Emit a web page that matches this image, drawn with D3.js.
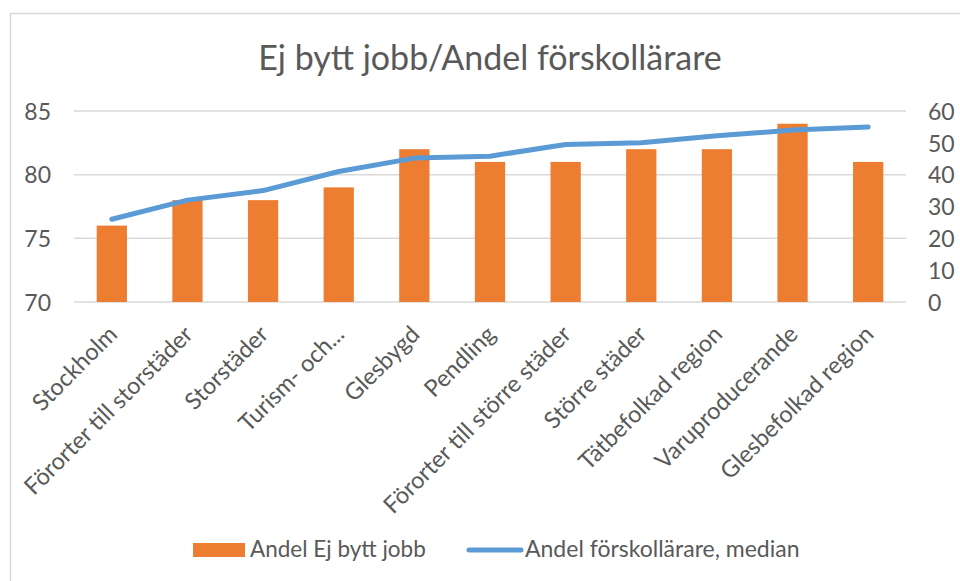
<!DOCTYPE html>
<html>
<head>
<meta charset="utf-8">
<script src="https://cdn.jsdelivr.net/npm/d3@7"></script>
<style>
  body { margin: 0; background: #fff; }
  svg text { font-family: Lato, "Open Sans", sans-serif; fill: #595959; }
</style>
</head>
<body>
<div id="chart"></div>
<script>
var categories = ["Stockholm", "Förorter till storstäder", "Storstäder", "Turism- och...",
    "Glesbygd", "Pendling", "Förorter till större städer", "Större städer",
    "Tätbefolkad region", "Varuproducerande", "Glesbefolkad region"];
var ejByttJobb = [76, 78, 78, 79, 82, 81, 81, 82, 82, 84, 81];
var forskollarare = [26, 32, 35, 41, 45.2, 45.8, 49.5, 50, 52.2, 54, 55];
var leftTicks = [70, 75, 80, 85];
var rightTicks = [0, 10, 20, 30, 40, 50, 60];
var seriesNames = ["Andel Ej bytt jobb", "Andel förskollärare, median"];

var W = 960, H = 581;
var plot = {left: 74, right: 906, top: 111, bottom: 302};

var svg = d3.select("#chart").append("svg")
    .attr("width", W)
    .attr("height", H);

// chart frame (only top/left edges are inside the picture)
svg.append("rect")
    .attr("x", 10.5).attr("y", 13.5)
    .attr("width", W + 20).attr("height", H + 20)
    .attr("fill", "#fff")
    .attr("stroke", "#d9d9d9")
    .attr("stroke-width", 1.5);

// title
svg.append("text")
    .attr("x", 490)
    .attr("y", 70)
    .attr("text-anchor", "middle")
    .style("font-size", "34px")
    .text("Ej bytt jobb/Andel förskollärare");

var x = d3.scaleBand()
    .domain(categories)
    .range([plot.left, plot.right])
    .padding(0);

var yL = d3.scaleLinear().domain([70, 85]).range([plot.bottom, plot.top]);
var yR = d3.scaleLinear().domain([0, 60]).range([plot.bottom, plot.top]);

// gridlines
svg.append("g")
    .selectAll("line")
    .data(leftTicks)
    .enter().append("line")
    .attr("x1", plot.left).attr("x2", plot.right)
    .attr("y1", function (d) { return yL(d); })
    .attr("y2", function (d) { return yL(d); })
    .attr("stroke", "#d9d9d9")
    .attr("stroke-width", 1.5);

// left axis
var axL = svg.append("g")
    .attr("transform", "translate(" + (plot.left - 23) + ",0)")
    .call(d3.axisLeft(yL).tickValues(leftTicks).tickSize(0).tickPadding(0));
axL.select(".domain").remove();
axL.selectAll("text")
    .style("font-size", "23px")
    .attr("dy", "0.36em");

// right axis
var axR = svg.append("g")
    .attr("transform", "translate(" + (plot.right + 22) + ",0)")
    .call(d3.axisRight(yR).tickValues(rightTicks).tickSize(0).tickPadding(0));
axR.select(".domain").remove();
axR.selectAll("text")
    .style("font-size", "23px")
    .attr("dy", "0.36em");

// bars
var barW = x.bandwidth() * 0.4;
svg.append("g")
    .selectAll("rect")
    .data(ejByttJobb)
    .enter().append("rect")
    .attr("x", function (d, i) { return x(categories[i]) + (x.bandwidth() - barW) / 2; })
    .attr("y", function (d) { return yL(d); })
    .attr("width", barW)
    .attr("height", function (d) { return yL(70) - yL(d); })
    .attr("fill", "#ed7d31");

// line
var line = d3.line()
    .x(function (d, i) { return x(categories[i]) + x.bandwidth() / 2; })
    .y(function (d) { return yR(d); });
svg.append("path")
    .datum(forskollarare)
    .attr("d", line)
    .attr("fill", "none")
    .attr("stroke", "#5b9bd5")
    .attr("stroke-width", 5)
    .attr("stroke-linecap", "round")
    .attr("stroke-linejoin", "round");

// category labels
svg.append("g")
    .selectAll("text")
    .data(categories)
    .enter().append("text")
    .attr("transform", function (d) {
        return "translate(" + (x(d) + x.bandwidth() / 2 + 1) + ",330) rotate(-45)";
    })
    .attr("text-anchor", "end")
    .attr("dy", "0.35em")
    .style("font-size", "23.5px")
    .text(function (d) { return d; });

// legend
var lg = svg.append("g");
lg.append("rect")
    .attr("x", 193).attr("y", 543)
    .attr("width", 52).attr("height", 14)
    .attr("fill", "#ed7d31");
lg.append("text")
    .attr("x", 250).attr("y", 557)
    .style("font-size", "22.5px")
    .text(seriesNames[0]);
lg.append("line")
    .attr("x1", 469).attr("x2", 521)
    .attr("y1", 550).attr("y2", 550)
    .attr("stroke", "#5b9bd5")
    .attr("stroke-width", 5)
    .attr("stroke-linecap", "round");
lg.append("text")
    .attr("x", 525).attr("y", 557)
    .style("font-size", "23px")
    .text(seriesNames[1]);
</script>
</body>
</html>
